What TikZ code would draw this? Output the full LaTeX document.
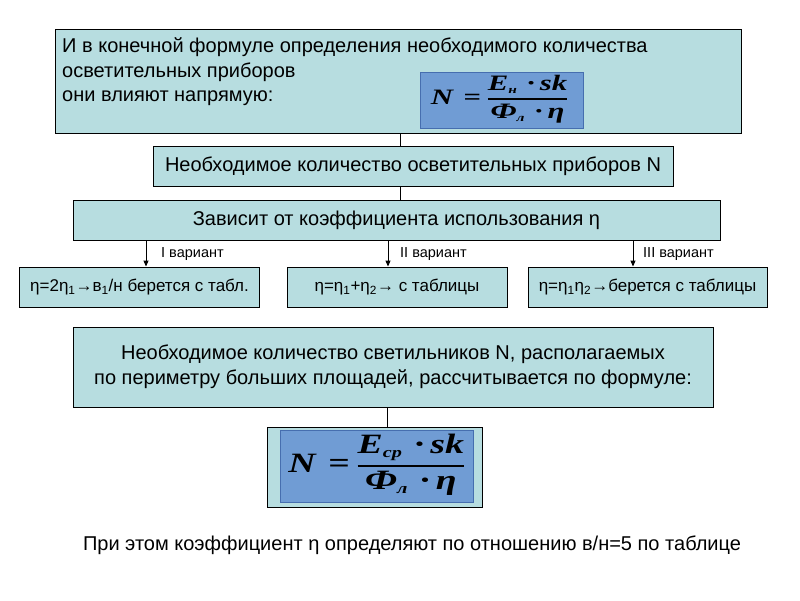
\documentclass[tikz,border=0pt]{standalone}
\usepackage{amsmath}
\usepackage{fontspec}
\setmainfont{Liberation Sans}
\newfontfamily\serifbi{Liberation Serif Bold Italic}
\usetikzlibrary{arrows.meta}
\definecolor{teal}{RGB}{183,221,224}
\definecolor{fblue}{RGB}{112,156,212}
\definecolor{fblueb}{RGB}{70,110,175}
\newcommand{\fnum}[3]{\hbox{\serifbi\fontsize{#1}{#1}\selectfont #2}}
\begin{document}
\begin{tikzpicture}[x=1pt,y=-1pt,
  box/.style={draw=black,fill=teal,line width=0.9pt,inner sep=0pt,align=center},
  fbox/.style={draw=fblueb,fill=fblue,line width=0.8pt,inner sep=0pt},
  big/.style={font=\fontsize{20}{25}\selectfont},
  row/.style={font=\fontsize{17}{20}\selectfont},
  conn/.style={draw=black,line width=0.9pt},
  arr/.style={conn,-{Triangle[length=6pt,width=5pt]}},
  lab/.style={font=\fontsize{14.5}{16}\selectfont,anchor=west,inner sep=0pt}]
\useasboundingbox (0,0) rectangle (800,600);
% top box
\node[box,minimum width=686,minimum height=104] (b1) at (398,81) {};
\node[big,anchor=base west,inner sep=0pt] (t1a) at (62,52) {И в конечной формуле определения необходимого количества};
\node[big,anchor=base west,inner sep=0pt] (t1b) at (62,77) {осветительных приборов};
\node[big,anchor=base west,inner sep=0pt] (t1c) at (62,101) {они влияют напрямую:};
\node[fbox,minimum width=163,minimum height=56] (f1) at (501.5,100) {};
\node (f1t) at (500,99) {\scalebox{1.4}[1]{\serifbi\fontsize{22}{24}\selectfont N\,\,=\,$\displaystyle\genfrac{}{}{1.1pt}{}{\hbox{\serifbi\fontsize{22}{24}\selectfont E\raisebox{-3pt}{\fontsize{11}{12}\selectfont н}\,\,·\,sk}}{\hbox{\serifbi\fontsize{22}{24}\selectfont Ф\raisebox{-3pt}{\fontsize{11}{12}\selectfont л}\,\,·\,η}}$}};
% second box
\node[box,big,minimum width=520,minimum height=40] (b2) at (413,166) {Необходимое количество осветительных приборов N};
\node[box,big,minimum width=647,minimum height=40] (b3) at (396.5,220) {Зависит от коэффициента использования η};
\draw[conn] (b1.south -| 400,0) -- (b2.north -| 400,0);
\draw[conn] (b2.south -| 400,0) -- (b3.north -| 400,0);
% row
\node[box,row,minimum width=240,minimum height=40] (ra) at (139.5,287) {η=2η\textsubscript{1}→в\textsubscript{1}/н берется с табл.};
\node[box,row,minimum width=220,minimum height=40] (rb) at (397,287) {η=η\textsubscript{1}+η\textsubscript{2}→ с таблицы};
\node[box,row,minimum width=239,minimum height=40] (rc) at (647.5,287) {η=η\textsubscript{1}η\textsubscript{2}→берется с таблицы};
\draw[arr] (b3.south -| 146,0) -- (ra.north -| 146,0);
\draw[arr] (b3.south -| 388,0) -- (rb.north -| 388,0);
\draw[arr] (b3.south -| 633,0) -- (rc.north -| 633,0);
\node[lab] (la) at (161,254) {I вариант};
\node[lab] (lb) at (400,254) {II вариант};
\node[lab] (lc) at (643,254) {III вариант};
% box 4
\node[box,big,minimum width=640,minimum height=80] (b4) at (393,367) {Необходимое количество светильников N, располагаемых\\по периметру больших площадей, рассчитывается по формуле:};
% formula box 2
\node[box,minimum width=215,minimum height=80] (b5) at (374.5,467) {};
\node[fbox,minimum width=193,minimum height=72] (f2) at (376.5,466) {};
\node (f2t) at (377,465) {\scalebox{1.35}[1]{\serifbi\fontsize{28}{30}\selectfont N\,\,=\,$\displaystyle\genfrac{}{}{1.5pt}{}{\hbox{\serifbi\fontsize{28}{30}\selectfont E\raisebox{-4pt}{\fontsize{15}{16}\selectfont ср}\,\,·\,sk}}{\hbox{\serifbi\fontsize{28}{30}\selectfont Ф\raisebox{-4pt}{\fontsize{15}{16}\selectfont л}\,\,·\,η}}$}};
\draw[conn] (b4.south -| 387,0) -- (b5.north -| 387,0);
% bottom text
\node[big,inner sep=0pt] (bt) at (412,545) {При этом коэффициент η определяют по отношению в/н=5 по таблице};
\end{tikzpicture}
\end{document}
